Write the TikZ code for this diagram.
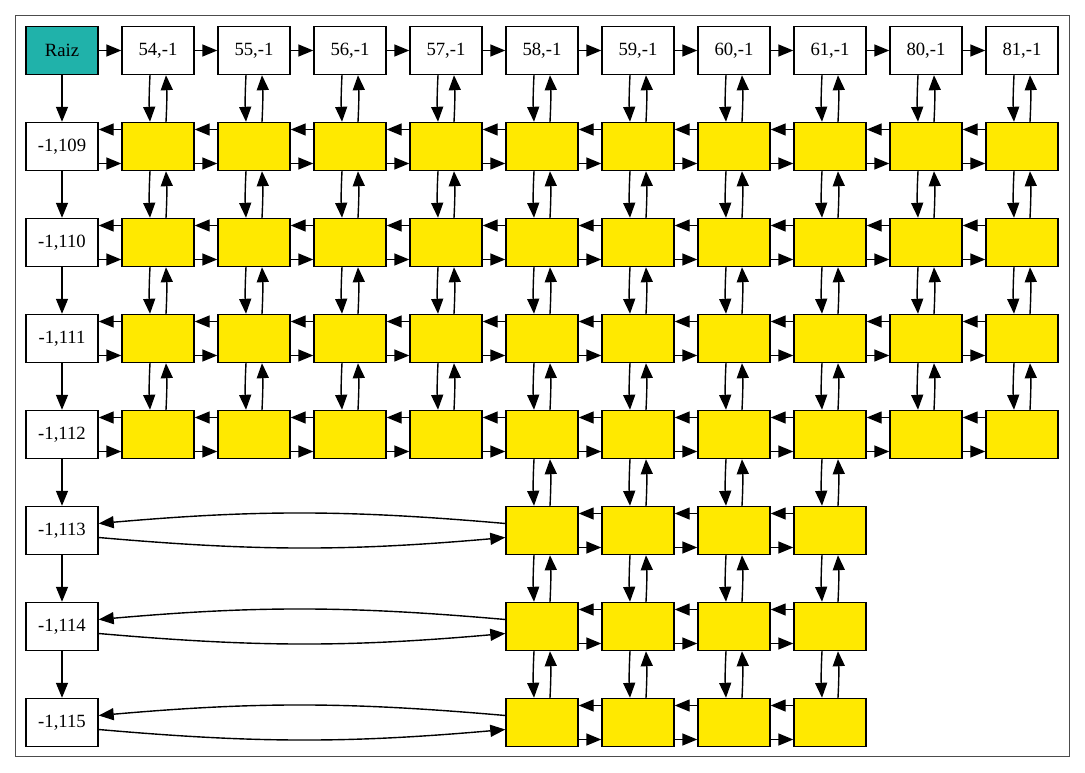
\documentclass[tikz,border=0pt]{standalone}
\usepackage{fontspec}
\setmainfont{Liberation Serif}
\usetikzlibrary{arrows.meta}
\definecolor{raizteal}{HTML}{20B2AA}
\definecolor{celyellow}{HTML}{FFE900}
\newcommand{\enlaceh}[2]{%
  \draw[link] ([yshift=17pt]#2.west) -- ([yshift=17pt]#1.east);
  \draw[link] ([yshift=-17pt]#1.east) -- ([yshift=-17pt]#2.west);}
\newcommand{\enlacev}[2]{%
  \draw[link] ([xshift=-8pt]#1.south) to[bend right=3] ([xshift=-8pt]#2.north);
  \draw[link] ([xshift=8pt]#2.north) to[bend right=3] ([xshift=8pt]#1.south);}

\begin{document}
\begin{tikzpicture}[x=1pt,y=-1pt,
  cell/.style={draw,line width=1.4pt,minimum width=72pt,minimum height=48pt,inner sep=0pt,font=\fontsize{18.7}{22}\selectfont},
  link/.style={-{Triangle[length=15pt,width=12pt]},line width=1.4pt}]
  \useasboundingbox (0,0) rectangle (1085,773);
  \draw[black!70,line width=1.4pt] (15.5,15.5) rectangle (1069.5,756.5);

  %cabeceras
  \node[cell,fill=raizteal] (raiz) at (62,50.5) {Raiz};
  \foreach \lab [count=\c] in {54,55,56,57,58,59,60,61,80,81}
    \node[cell,fill=white] (c\c) at (62+96*\c,50.5) {\lab,-1};
  \foreach \lab [count=\r] in {109,...,115}
    \node[cell,fill=white] (r\r) at (62,50.5+96*\r) {-1,\lab};

  %nodos de la matriz
  \foreach \r in {1,...,4}
    \foreach \c in {1,...,10}
      \node[cell,fill=celyellow] (n\r-\c) at (62+96*\c,50.5+96*\r) {};
  \foreach \r in {5,6,7}
    \foreach \c in {5,...,8}
      \node[cell,fill=celyellow] (n\r-\c) at (62+96*\c,50.5+96*\r) {};

  %listas de cabecera
  \draw[link] (raiz) -- (c1);
  \foreach \c [evaluate=\c as \p using int(\c-1)] in {2,...,10}
    \draw[link] (c\p) -- (c\c);
  \draw[link] (raiz) -- (r1);
  \foreach \r [evaluate=\r as \p using int(\r-1)] in {2,...,7}
    \draw[link] (r\p) -- (r\r);

  %enlaces horizontales
  \foreach \r in {1,...,4} {
    \enlaceh{r\r}{n\r-1}
    \foreach \c [evaluate=\c as \p using int(\c-1)] in {2,...,10}
      {\enlaceh{n\r-\p}{n\r-\c}}
  }
  \foreach \r in {5,6,7} {
    \draw[link] ([yshift=7pt]n\r-5.west) to[bend right=5] ([yshift=7pt]r\r.east);
    \draw[link] ([yshift=-7pt]r\r.east) to[bend right=5] ([yshift=-7pt]n\r-5.west);
    \foreach \c [evaluate=\c as \p using int(\c-1)] in {6,7,8}
      {\enlaceh{n\r-\p}{n\r-\c}}
  }

  %enlaces verticales
  \foreach \c in {1,...,10}
    {\enlacev{c\c}{n1-\c}}
  \foreach \r [evaluate=\r as \s using int(\r+1)] in {1,2,3}
    \foreach \c in {1,...,10}
      {\enlacev{n\r-\c}{n\s-\c}}
  \foreach \r [evaluate=\r as \s using int(\r+1)] in {4,5,6}
    \foreach \c in {5,...,8}
      {\enlacev{n\r-\c}{n\s-\c}}
\end{tikzpicture}
\end{document}
